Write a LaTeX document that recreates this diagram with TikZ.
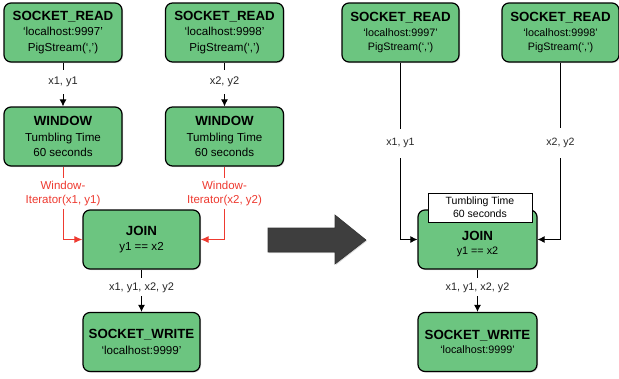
\documentclass[tikz,border=0pt]{standalone}
\usepackage{fontspec}
\setmainfont{Liberation Sans}
\usetikzlibrary{arrows.meta,shadows}
\definecolor{boxgreen}{RGB}{108,197,128}
\definecolor{lblred}{RGB}{238,58,48}
\definecolor{arrgray}{RGB}{62,62,62}
\tikzset{
  box/.style={draw=black, line width=1.2pt, fill=boxgreen, rounded corners=7pt,
    align=center, inner sep=0pt,
    drop shadow={opacity=0.3, shadow xshift=1pt, shadow yshift=-1pt}},
  lbox/.style={box, minimum width=118pt, minimum height=59pt, font=\fontsize{11.6}{15.2}\selectfont},
  rbox/.style={box, minimum width=117pt, minimum height=59pt, font=\fontsize{10.8}{14.2}\selectfont},
  arr/.style={draw=black, line width=1pt, -{Latex[length=7pt,width=7pt]}},
  redarr/.style={draw=lblred, line width=1pt, -{Latex[length=8pt,width=7pt]}},
  lbl/.style={fill=white, inner xsep=2pt, inner ysep=7pt, font=\fontsize{11}{13}\selectfont, text=black!85},
  rlbl/.style={fill=white, inner xsep=2pt, inner ysep=10pt, font=\fontsize{10.6}{13}\selectfont, text=black!85},
  redlbl/.style={fill=white, inner xsep=2pt, inner ysep=3pt, align=center, text=lblred, font=\fontsize{11.5}{14}\selectfont},
  tbox/.style={draw=black, line width=0.8pt, fill=white, minimum width=104pt, minimum height=29pt, inner sep=0pt, align=center, font=\fontsize{10.5}{13}\selectfont}
}
\newcommand{\ttl}[1]{{\fontsize{13.3}{15}\selectfont\bfseries #1}}
\newcommand{\rttl}[1]{{\fontsize{13.3}{15}\selectfont\bfseries #1}}
\begin{document}
\begin{tikzpicture}[x=1pt,y=-1pt]
\useasboundingbox (0,0) rectangle (619,378);
% left panel
\node[lbox] (sr1) at (63,32.5) {\ttl{SOCKET\_READ}\\‘localhost:9997’\\PigStream(‘,’)};
\node[lbox] (sr2) at (224.5,32.5) {\ttl{SOCKET\_READ}\\‘localhost:9998’\\PigStream(‘,’)};
\node[lbox] (w1) at (63,136.5) {\ttl{WINDOW}\\Tumbling Time\\60 seconds};
\node[lbox] (w2) at (224.5,136.5) {\ttl{WINDOW}\\Tumbling Time\\60 seconds};
\node[lbox, minimum width=117pt] (j1) at (141.5,239.5) {\ttl{JOIN}\\y1 == x2};
\node[lbox, minimum width=117pt] (sw1) at (141.5,342) {\ttl{SOCKET\_WRITE}\\‘localhost:9999’};
\draw[arr] (sr1) -- node[lbl, pos=0.44] {x1, y1} (w1);
\draw[arr] (sr2) -- node[lbl, pos=0.44] {x2, y2} (w2);
\draw[redarr] (w1.south) |- node[redlbl, pos=0.185] {Window-\\Iterator(x1, y1)} (j1.west);
\draw[redarr] (w2.south) |- node[redlbl, pos=0.185] {Window-\\Iterator(x2, y2)} (j1.east);
\draw[arr] (j1) -- node[lbl, pos=0.42, inner ysep=4pt] {x1, y1, x2, y2} (sw1);
% big arrow
\filldraw[fill=arrgray, draw=black!80, line width=0.6pt,
  drop shadow={opacity=0.3, shadow xshift=1pt, shadow yshift=-1pt}]
  (268,228) -- (335,228) -- (335,215) -- (366,240) -- (335,264) -- (335,252) -- (268,252) -- cycle;
% right panel
\node[rbox] (sr3) at (400.5,32.5) {\rttl{SOCKET\_READ}\\‘localhost:9997’\\PigStream(‘,’)};
\node[rbox] (sr4) at (560.5,32.5) {\rttl{SOCKET\_READ}\\‘localhost:9998’\\PigStream(‘,’)};
\node[rbox, minimum width=119pt, text depth=0pt] (j2) at (477.5,239.5) {\\[2pt]\rttl{JOIN}\\y1 == x2};
\node[rbox, minimum width=119pt] (sw2) at (477.5,342) {\rttl{SOCKET\_WRITE}\\‘localhost:9999’};
\draw[arr] (sr3.south) |- node[rlbl, pos=0.228] {x1, y1} (j2.west);
\draw[arr] (sr4.south) |- node[rlbl, pos=0.228] {x2, y2} (j2.east);
\draw[arr] (j2) -- node[lbl, pos=0.42, inner ysep=4pt, font=\fontsize{10.8}{13}\selectfont] {x1, y1, x2, y2} (sw2);
\node[tbox] (tt) at (480,207.5) {Tumbling Time\\60 seconds};
\end{tikzpicture}
\end{document}
